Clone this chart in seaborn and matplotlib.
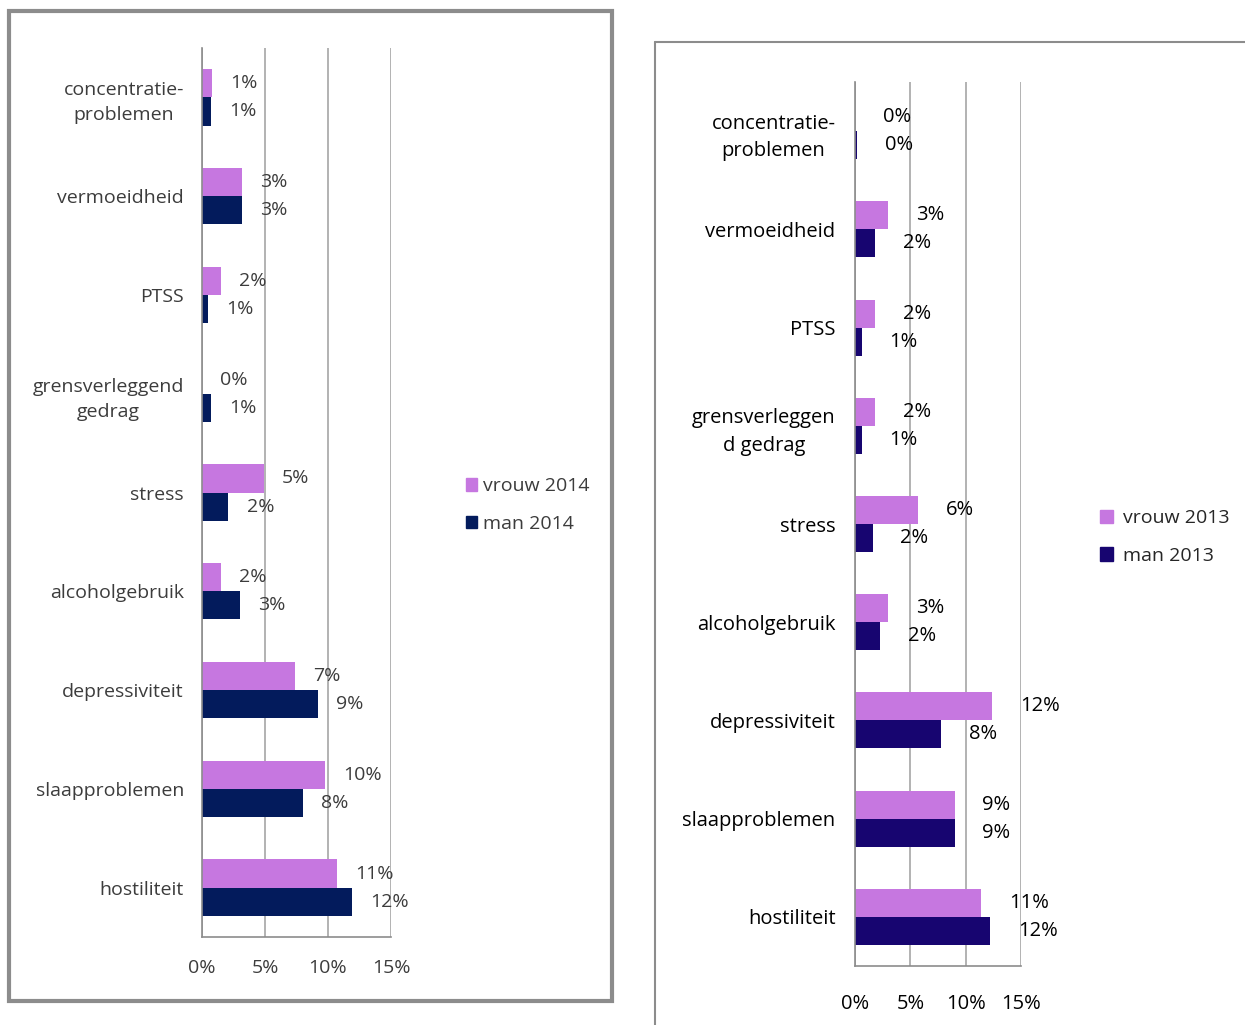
import numpy as np
import pandas as pd
import seaborn as sns
import matplotlib.pyplot as plt
from matplotlib.patches import Rectangle
from matplotlib.lines import Line2D

sns.set_style("white")
plt.rcParams['font.family'] = ['Open Sans', 'DejaVu Sans']

# data
cats_2014 = ["concentratie-\nproblemen", "vermoeidheid", "PTSS", "grensverleggend\ngedrag", "stress",
             "alcoholgebruik", "depressiviteit", "slaapproblemen", "hostiliteit"]
vrouw_2014 = [0.8, 3.2, 1.5, 0.0, 4.9, 1.5, 7.4, 9.8, 10.7]
man_2014 = [0.7, 3.2, 0.5, 0.7, 2.1, 3.0, 9.2, 8.0, 11.9]
vrouw_2014_lab = ["1%", "3%", "2%", "0%", "5%", "2%", "7%", "10%", "11%"]
man_2014_lab = ["1%", "3%", "1%", "1%", "2%", "3%", "9%", "8%", "12%"]

cats_2013 = ["concentratie-\nproblemen", "vermoeidheid", "PTSS", "grensverleggen\nd gedrag", "stress",
             "alcoholgebruik", "depressiviteit", "slaapproblemen", "hostiliteit"]
vrouw_2013 = [0.0, 3.0, 1.8, 1.8, 5.7, 3.0, 12.4, 9.0, 11.4]
man_2013 = [0.2, 1.8, 0.6, 0.6, 1.6, 2.3, 7.8, 9.0, 12.2]
vrouw_2013_lab = ["0%", "3%", "2%", "2%", "6%", "3%", "12%", "9%", "11%"]
man_2013_lab = ["0%", "2%", "1%", "1%", "2%", "2%", "8%", "9%", "12%"]

x_ticks = [0, 5, 10, 15]
x_tick_labels = ["0%", "5%", "10%", "15%"]


def draw_panel(ax, cats, vrouw, man, vlab, mlab, year, colors, txt, pad_lab, pad_cat, pad_x, fs):
    df = pd.DataFrame({
        "cat": cats + cats,
        "value": vrouw + man,
        "group": [f"vrouw {year}"] * len(cats) + [f"man {year}"] * len(cats),
    })
    sns.barplot(data=df, y="cat", x="value", hue="group", palette=colors, width=0.57,
                saturation=1, linewidth=0, ax=ax, legend=False)
    ax.bar_label(ax.containers[0], labels=vlab, padding=pad_lab, fontsize=fs, color=txt)
    ax.bar_label(ax.containers[1], labels=mlab, padding=pad_lab, fontsize=fs, color=txt)
    ax.set_xlim(0, 15)
    ax.set_ylim(8.5, -0.5)
    ax.set_xticks(x_ticks)
    ax.set_xticklabels(x_tick_labels, fontsize=fs, color=txt)
    ax.set_yticks(np.arange(-0.5, 9, 1), minor=True)
    ax.set_yticklabels(cats, fontsize=fs, color=txt, ha="right", multialignment="center", linespacing=1.5)
    ax.tick_params(axis="y", which="major", length=0, pad=pad_cat)
    ax.tick_params(axis="y", which="minor", length=6, color="#8c8c8c", width=1.2)
    ax.tick_params(axis="x", length=6, color="#8c8c8c", width=1.2, pad=pad_x)
    ax.grid(axis="x", color="#a6a6a6", linewidth=1.2)
    ax.set_axisbelow(True)
    ax.set_xlabel("")
    ax.set_ylabel("")
    sns.despine(ax=ax)
    for s in ["left", "bottom"]:
        ax.spines[s].set_color("#8c8c8c")
        ax.spines[s].set_linewidth(1.2)


fig = plt.figure(figsize=(12.45, 10.25), dpi=100)

# left panel (2014)
ax1 = fig.add_axes([202 / 1245, 1 - 937 / 1025, 189 / 1245, 889 / 1025])
draw_panel(ax1, cats_2014, vrouw_2014, man_2014, vrouw_2014_lab, man_2014_lab, 2014,
           ["#c677e0", "#031b5c"], "#3c3c3c", 13, 13, 10, 14)
fig.patches.append(Rectangle((9 / 1245, 1 - 1001 / 1025), 603 / 1245, 990 / 1025,
                             transform=fig.transFigure, fill=False, edgecolor="#8c8c8c", linewidth=3))
h1 = [Rectangle((0, 0), 1, 1, color="#c677e0"), Rectangle((0, 0), 1, 1, color="#031b5c")]
fig.legend(h1, ["vrouw 2014", "man 2014"], loc="center left", bbox_to_anchor=(448 / 1245, 1 - 505 / 1025),
           frameon=False, fontsize=14, handlelength=0.6, handleheight=0.6, handletextpad=0.3,
           labelspacing=1.0, labelcolor="#3c3c3c")

# right panel (2013)
ax2 = fig.add_axes([855 / 1245, 1 - 966 / 1025, 166 / 1245, 884 / 1025])
draw_panel(ax2, cats_2013, vrouw_2013, man_2013, vrouw_2013_lab, man_2013_lab, 2013,
           ["#c677e0", "#170570"], "#000000", 20, 14, 14, 14.5)
fig.add_artist(Line2D([655 / 1245, 1], [1 - 42 / 1025, 1 - 42 / 1025], transform=fig.transFigure,
                      color="#8c8c8c", linewidth=1.5))
fig.add_artist(Line2D([655 / 1245, 655 / 1245], [0, 1 - 42 / 1025], transform=fig.transFigure,
                      color="#8c8c8c", linewidth=1.5))
h2 = [Rectangle((0, 0), 1, 1, color="#c677e0"), Rectangle((0, 0), 1, 1, color="#170570")]
fig.legend(h2, ["vrouw 2013", "man 2013"], loc="center left", bbox_to_anchor=(1082 / 1245, 1 - 537 / 1025),
           frameon=False, fontsize=14, handlelength=0.7, handleheight=0.7, handletextpad=0.5,
           labelspacing=1.0)

plt.savefig("out.png", dpi=100)
